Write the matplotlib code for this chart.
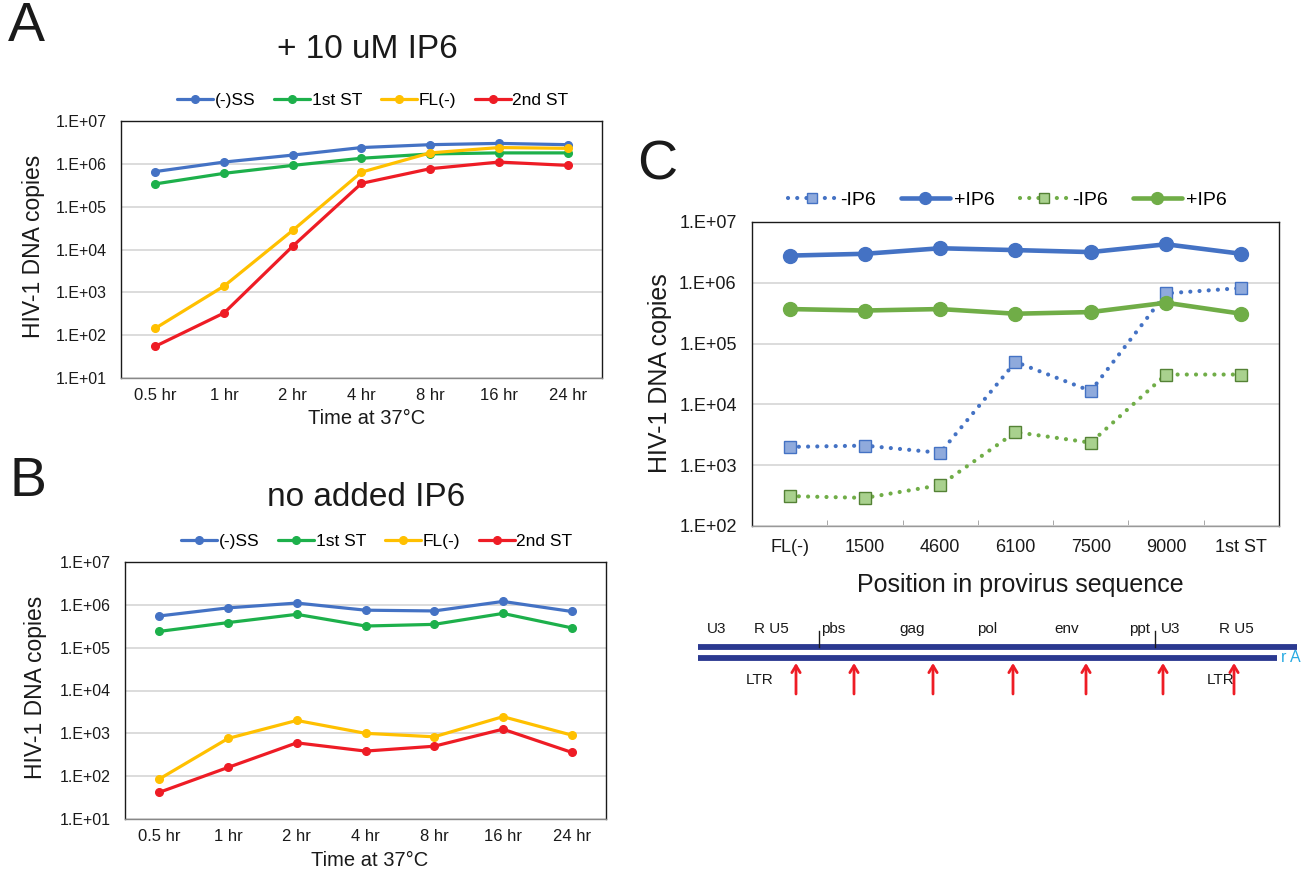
import matplotlib
matplotlib.use('Agg')
import matplotlib.pyplot as plt
import numpy as np

plt.rcParams['font.family'] = ['Liberation Sans', 'DejaVu Sans']

# ---------------- data ----------------
times = ['0.5 hr', '1 hr', '2 hr', '4 hr', '8 hr', '16 hr', '24 hr']
series_names = ['(-)SS', '1st ST', 'FL(-)', '2nd ST']

a_ss = [6.6e5, 1.1e6, 1.6e6, 2.4e6, 2.8e6, 3.0e6, 2.8e6]
a_1st = [3.4e5, 6.0e5, 9.2e5, 1.35e6, 1.7e6, 1.8e6, 1.8e6]
a_fl = [1.45e2, 1.4e3, 2.8e4, 6.4e5, 1.8e6, 2.4e6, 2.3e6]
a_2nd = [55, 330, 1.2e4, 3.5e5, 7.7e5, 1.1e6, 9.2e5]

b_ss = [5.5e5, 8.5e5, 1.1e6, 7.5e5, 7.2e5, 1.2e6, 7.0e5]
b_1st = [2.4e5, 3.85e5, 6.0e5, 3.2e5, 3.5e5, 6.3e5, 2.9e5]
b_fl = [86, 760, 2.0e3, 1.0e3, 830, 2.45e3, 910]
b_2nd = [42, 160, 600, 385, 500, 1.25e3, 360]

positions = ['FL(-)', '1500', '4600', '6100', '7500', '9000', '1st ST']
c_labels = ['-IP6', '+IP6', '-IP6', '+IP6']
c_blue_minus = [2.0e3, 2.1e3, 1.6e3, 5.0e4, 1.66e4, 6.7e5, 8.2e5]
c_blue_plus = [2.8e6, 3.0e6, 3.7e6, 3.45e6, 3.2e6, 4.3e6, 3.0e6]
c_green_minus = [310, 290, 470, 3.5e3, 2.35e3, 3.1e4, 3.1e4]
c_green_plus = [3.7e5, 3.5e5, 3.7e5, 3.1e5, 3.3e5, 4.7e5, 3.1e5]

ytick_vals_ab = [1e1, 1e2, 1e3, 1e4, 1e5, 1e6, 1e7]
ytick_labels_ab = ['1.E+01', '1.E+02', '1.E+03', '1.E+04', '1.E+05', '1.E+06', '1.E+07']
ytick_vals_c = [1e2, 1e3, 1e4, 1e5, 1e6, 1e7]
ytick_labels_c = ['1.E+02', '1.E+03', '1.E+04', '1.E+05', '1.E+06', '1.E+07']

# schematic labels
top_labels = ['U3', 'R U5', 'pbs', 'gag', 'pol', 'env', 'ppt', 'U3', 'R U5']

# ---------------- style ----------------
BLUE = '#4472C4'
GREEN = '#1DB04B'
YELLOW = '#FFC000'
RED = '#EE1C25'
CGREEN = '#70AD47'
GRID = '#D9D9D9'
NAVY = '#2B3990'
INK = '#1a1a1a'

W, H = 1305, 873
fig = plt.figure(figsize=(W / 100, H / 100), dpi=100)

# overlay for free text and schematic (pixel coordinates)
ov = fig.add_axes([0, 0, 1, 1], zorder=-5)
ov.set_xlim(0, W)
ov.set_ylim(H, 0)
ov.axis('off')


def px_rect(l, t, r, b):
    return [l / W, 1 - b / H, (r - l) / W, (b - t) / H]


def time_panel(rect, series, legend_xy):
    ax = fig.add_axes(rect)
    x = np.arange(len(times))
    cols = [BLUE, GREEN, YELLOW, RED]
    handles = []
    for vals, c, name in zip(series, cols, series_names):
        h, = ax.plot(x, vals, color=c, lw=2.3, marker='o', ms=5.5,
                     label=name, solid_capstyle='round', zorder=3)
        handles.append(h)
    ax.set_yscale('log')
    ax.set_ylim(1e1, 1e7)
    ax.set_xlim(-0.5, len(times) - 0.5)
    ax.set_yticks(ytick_vals_ab)
    ax.set_yticklabels(ytick_labels_ab)
    ax.yaxis.set_minor_locator(matplotlib.ticker.NullLocator())
    ax.set_xticks(x)
    ax.set_xticklabels(times)
    ax.tick_params(axis='both', length=0, colors=INK)
    ax.tick_params(axis='y', pad=10, labelsize=11.5)
    ax.tick_params(axis='x', pad=7, labelsize=12)
    ax.yaxis.grid(True, color=GRID, lw=1.3)
    ax.set_axisbelow(True)
    for s in ax.spines.values():
        s.set_color(INK)
        s.set_linewidth(1.0)
    ax.spines['bottom'].set_color('#888888')
    ax.legend(handles=handles, loc='center', ncol=4, frameon=False,
              bbox_to_anchor=(legend_xy[0] / W, 1 - legend_xy[1] / H),
              bbox_transform=fig.transFigure, fontsize=12.5,
              handlelength=2.05, handletextpad=0.1, columnspacing=1.1,
              borderaxespad=0)
    return ax


axA = time_panel(px_rect(121, 121, 602, 378), [a_ss, a_1st, a_fl, a_2nd], (373, 100))
axB = time_panel(px_rect(125, 562, 606, 819), [b_ss, b_1st, b_fl, b_2nd], (377, 541))

# ---------------- panel C ----------------
axC = fig.add_axes(px_rect(752, 222, 1279, 526))
xc = np.arange(len(positions))
dot = (0, (0.01, 2.2))
h1, = axC.plot(xc, c_blue_minus, color=BLUE, lw=3.0, ls=dot, dash_capstyle='round',
               marker='s', ms=9, mfc='#8FAADC', mec=BLUE, mew=1.0, zorder=3)
h2, = axC.plot(xc, c_blue_plus, color=BLUE, lw=3.3, marker='o', ms=10,
               solid_capstyle='round', zorder=4)
h3, = axC.plot(xc, c_green_minus, color=CGREEN, lw=3.0, ls=dot, dash_capstyle='round',
               marker='s', ms=9, mfc='#A9D18E', mec='#548235', mew=1.0, zorder=3)
h4, = axC.plot(xc, c_green_plus, color=CGREEN, lw=3.3, marker='o', ms=10,
               solid_capstyle='round', zorder=4)
axC.set_yscale('log')
axC.set_ylim(1e2, 1e7)
axC.set_xlim(-0.5, len(positions) - 0.5)
axC.set_yticks(ytick_vals_c)
axC.set_yticklabels(ytick_labels_c)
axC.yaxis.set_minor_locator(matplotlib.ticker.NullLocator())
axC.set_xticks(xc)
axC.set_xticklabels(positions)
axC.set_xticks(np.arange(len(positions) - 1) + 0.5, minor=True)
axC.tick_params(axis='x', which='major', length=0, pad=9)
axC.tick_params(axis='x', which='minor', length=4, direction='in', color='#999999')
axC.tick_params(axis='y', length=0, pad=11)
axC.tick_params(axis='both', labelsize=13, colors=INK)
axC.yaxis.grid(True, color=GRID, lw=1.3)
axC.set_axisbelow(True)
for s in axC.spines.values():
    s.set_color(INK)
    s.set_linewidth(1.0)
axC.spines['bottom'].set_color('#999999')
axC.legend(handles=[h1, h2, h3, h4], labels=c_labels, loc='center', ncol=4,
           frameon=False, bbox_to_anchor=(1007 / W, 1 - 200 / H),
           bbox_transform=fig.transFigure, fontsize=14, handlelength=2.5,
           handletextpad=0.2, columnspacing=1.3, borderaxespad=0, markerscale=0.85)

# ---------------- free text ----------------
ov.text(8, 27, 'A', fontsize=40, va='center', ha='left', color=INK)
ov.text(9, 482, 'B', fontsize=40, va='center', ha='left', color=INK)
ov.text(637, 165, 'C', fontsize=40, va='center', ha='left', color=INK)
ov.text(367, 50, '+ 10 uM IP6', fontsize=24, ha='center', va='center', color=INK)
ov.text(366, 498, 'no added IP6', fontsize=24, ha='center', va='center', color=INK)
ov.text(34, 246, 'HIV-1 DNA copies', fontsize=16.5, rotation=90, ha='center', va='center', color=INK)
ov.text(36, 687, 'HIV-1 DNA copies', fontsize=16.5, rotation=90, ha='center', va='center', color=INK)
ov.text(660, 373, 'HIV-1 DNA copies', fontsize=18, rotation=90, ha='center', va='center', color=INK)
ov.text(367, 419, 'Time at 37°C', fontsize=14.5, ha='center', va='center', color=INK)
ov.text(370, 861, 'Time at 37°C', fontsize=14.5, ha='center', va='center', color=INK)
ov.text(1020, 585, 'Position in provirus sequence', fontsize=18, ha='center', va='center', color=INK)

# ---------------- schematic ----------------
ov.plot([698, 1297], [647, 647], color=NAVY, lw=4.2, solid_capstyle='butt')
ov.plot([698, 1277], [658, 658], color=NAVY, lw=4.2, solid_capstyle='butt')
ov.text(1281, 658, 'r A', fontsize=11.5, color='#29ABE2', ha='left', va='center')
label_x = [707, 754, 821, 899, 977, 1054, 1129, 1161, 1219]
for lx, t in zip(label_x, top_labels):
    ov.text(lx, 629, t, fontsize=11, ha='left', va='center', color=INK)
ov.plot([819, 819], [631, 647], color=INK, lw=1)
ov.plot([1155, 1155], [631, 647], color=INK, lw=1)
ov.text(746, 680, 'LTR', fontsize=11, ha='left', va='center', color=INK)
ov.text(1207, 680, 'LTR', fontsize=11, ha='left', va='center', color=INK)
arrow_x = [796, 854, 933, 1013, 1086, 1163, 1234]
for axx in arrow_x:
    ov.annotate('', xy=(axx, 663), xytext=(axx, 694),
                arrowprops=dict(arrowstyle='->,head_length=0.5,head_width=0.3',
                                color=RED, lw=2, shrinkA=0, shrinkB=0))

fig.savefig('out.png', dpi=100)
